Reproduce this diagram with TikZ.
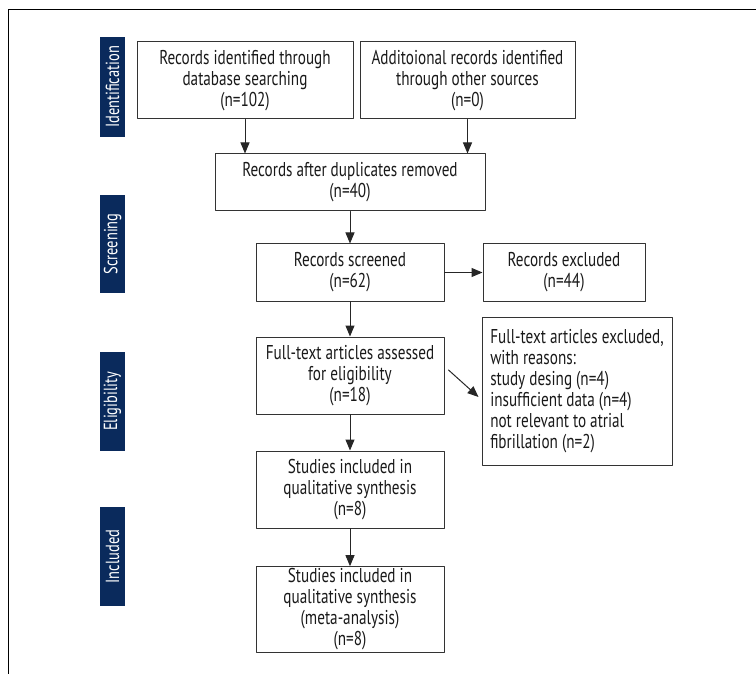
\documentclass[tikz,border=0pt]{standalone}
\usepackage{fontspec}
\setmainfont{PT Sans}[FakeStretch=0.76]
\usetikzlibrary{arrows.meta}
\usetikzlibrary{calc}
\definecolor{navy}{RGB}{10,42,92}

\begin{document}
\begin{tikzpicture}[line cap=round,line join=round,>={Triangle[length=11pt,width=9pt]},x=1pt,y=-1pt,
  box/.style={draw=black!80,line width=1pt,align=center,inner sep=2pt,text=black!90,font=\fontsize{20}{21}\selectfont},
  phase/.style={fill=navy,text=white,rotate=90,minimum height=25,inner sep=0pt,font=\fontsize{19}{20}\selectfont},
  flow/.style={->,line width=1pt,draw=black!85}]
\useasboundingbox (0,0) rectangle (756,674);
%\clip (0,0) rectangle (756,674);
\draw[line width=0.8pt] (756,9) -- (8,9) -- (8,674);

\node[phase,minimum width=100] (ident) at (112.5,87) {Identification};
\node[phase,minimum width=98] (screen) at (112.5,244) {Screening};
\node[phase,minimum width=99] (elig) at (112.5,401.5) {Eligibility};
\node[phase,minimum width=99] (incl) at (112.5,556.5) {Included};

\node[box,minimum width=216,minimum height=77] (dbrec) at (245,80.5) {Records identified through\\database searching\\(n=102)};
\node[box,minimum width=215,minimum height=77] (othrec) at (467.5,80.5) {Additoional records identified\\through other sources\\(n=0)};
\node[box,minimum width=270,minimum height=57] (dedup) at (350,182.5) {Records after duplicates removed\\(n=40)};
\node[box,minimum width=188,minimum height=57] (scrnd) at (350,272.5) {Records screened\\(n=62)};
\node[box,minimum width=162,minimum height=57] (excl) at (564,272.5) {Records excluded\\(n=44)};
\node[box,minimum width=188,minimum height=77] (fulltxt) at (350,375.5) {Full-text articles assessed\\for eligibility\\(n=18)};
\node[box,minimum width=190,minimum height=148,align=left] (ftexcl) at (577,391) {Full-text articles excluded,\\with reasons:\\study desing (n=4)\\insufficient data (n=4)\\not relevant to atrial\\fibrillation (n=2)};
\node[box,minimum width=188,minimum height=77] (qual) at (350,489.5) {Studies included in\\qualitative synthesis\\(n=8)};
\node[box,minimum width=188,minimum height=85] (meta) at (350,609.5) {Studies included in\\qualitative synthesis\\(meta-analysis)\\(n=8)};

\draw[flow] (dbrec.south) -- (dbrec.south |- dedup.north);
\draw[flow] (othrec.south) -- (othrec.south |- dedup.north);
\draw[flow] (dedup) -- (scrnd);
\draw[flow] (scrnd) -- (excl);
\draw[flow] (scrnd) -- (fulltxt);
\draw[flow] ($(fulltxt.east)+(4,-5.5)$) -- ($(ftexcl.west)+(-3,6)$);
\draw[flow] (fulltxt) -- (qual);
\draw[flow] (qual) -- (meta);
\end{tikzpicture}
\end{document}
